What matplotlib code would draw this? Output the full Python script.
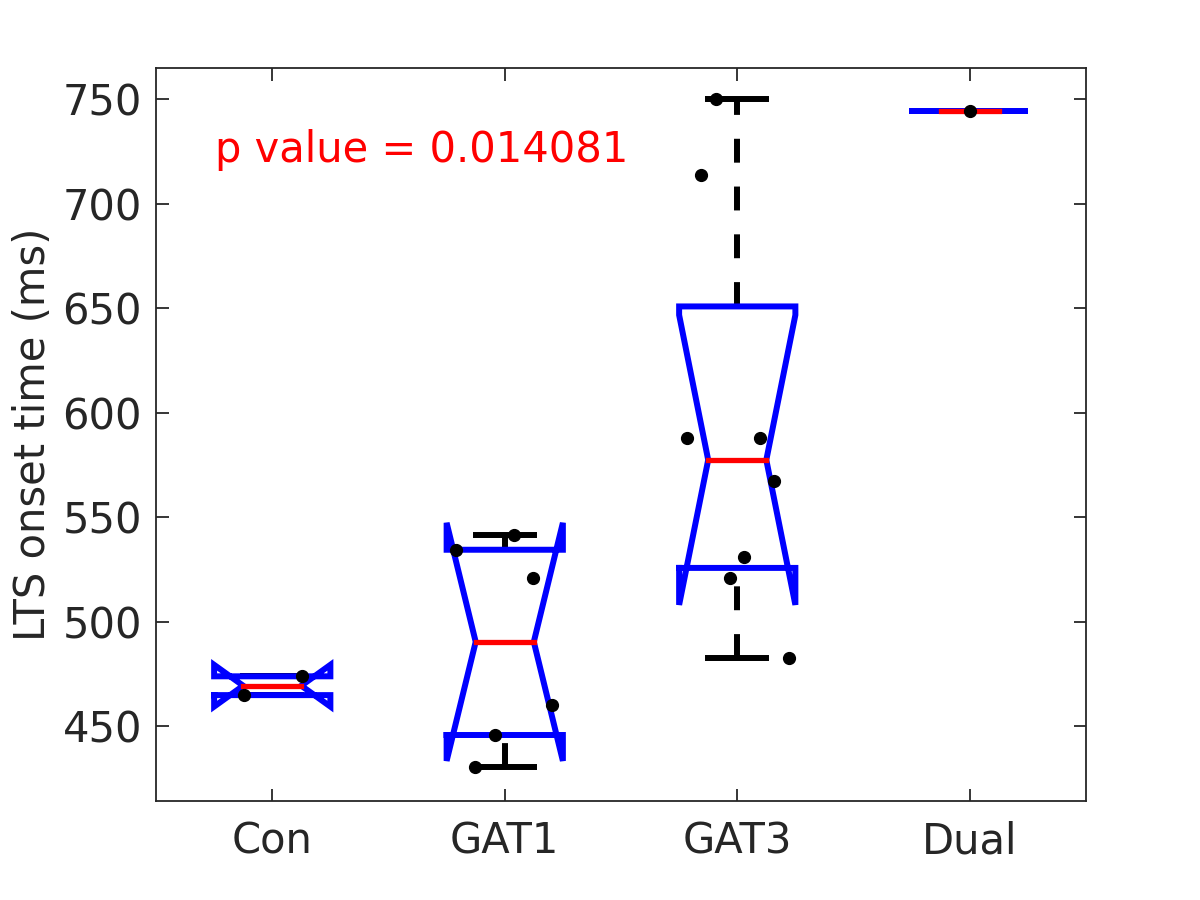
import matplotlib
matplotlib.use("Agg")
import matplotlib.pyplot as plt
import numpy as np

groups = ["Con", "GAT1", "GAT3", "Dual"]

# raw points (value, x jitter offset)
con_vals = [464.8, 473.8]
con_jit = [-0.123, 0.126]
gat1_vals = [534.4, 541.4, 520.7, 459.9, 445.7, 430.2]
gat1_jit = [-0.211, 0.040, 0.120, 0.205, -0.043, -0.129]
gat3_vals = [587.7, 587.7, 567.1, 530.7, 520.7, 482.4, 750.0, 714.0]
gat3_jit = [-0.218, 0.096, 0.156, 0.031, -0.033, 0.221, -0.093, -0.158]
dual_vals = [744.7]
dual_jit = [0.0]

# box statistics as drawn
q1 = [464.8, 445.7, 525.7, 744.7]
med = [469.3, 490.3, 577.4, 744.7]
q3 = [473.8, 534.4, 650.9, 744.7]
notch_lo = [459.3, 433.3, 508.0, 744.7]
notch_hi = [479.3, 547.3, 646.8, 744.7]
whisk_lo = [464.8, 430.2, 482.4, 744.7]
whisk_hi = [473.8, 541.4, 750.0, 744.7]

p_text = "p value = 0.014081"

fig = plt.figure(figsize=(12, 9), dpi=100)
ax = fig.add_axes([0.13, 0.11, 0.775, 0.815])

blue = (0, 0, 1)
w = 0.25
all_vals = [con_vals, gat1_vals, gat3_vals, dual_vals]
all_jit = [con_jit, gat1_jit, gat3_jit, dual_jit]

for i in range(len(groups)):
    x = i + 1
    # whiskers
    ax.plot([x, x], [q3[i], whisk_hi[i]], color="k", lw=4.3, ls=(0, (4, 4)), zorder=1)
    ax.plot([x, x], [whisk_lo[i], q1[i]], color="k", lw=4.3, ls=(0, (4, 4)), zorder=1)
    ax.plot([x - w / 2, x + w / 2], [whisk_hi[i], whisk_hi[i]], color="k", lw=4.3, zorder=1)
    ax.plot([x - w / 2, x + w / 2], [whisk_lo[i], whisk_lo[i]], color="k", lw=4.3, zorder=1)
    # notched box outline
    bx = [x - w, x - w, x - w / 2, x - w, x - w, x + w, x + w, x + w / 2, x + w, x + w, x - w]
    by = [q1[i], notch_lo[i], med[i], notch_hi[i], q3[i], q3[i], notch_hi[i], med[i],
          notch_lo[i], q1[i], q1[i]]
    ax.plot(bx, by, color=blue, lw=4.3, solid_joinstyle="miter", zorder=2)
    # median
    ax.plot([x - w / 2, x + w / 2], [med[i], med[i]], color="r", lw=3.8, zorder=3)
    # points
    ax.plot(x + np.array(all_jit[i]), all_vals[i], "o", color="k", ms=8.5, zorder=4)

ax.text(0.755, 726, p_text, color="r", fontsize=30, ha="left", va="center")

ax.set_xlim(0.5, 4.5)
ax.set_ylim(414.1, 765.3)
ax.set_xticks([1, 2, 3, 4])
ax.set_xticklabels(groups)
ax.set_yticks([450, 500, 550, 600, 650, 700, 750])
ax.set_ylabel("LTS onset time (ms)", fontsize=30, color="#262626", labelpad=6)

for s in ax.spines.values():
    s.set_color("#262626")
    s.set_linewidth(1.3)
ax.tick_params(direction="in", length=9, width=1.3, colors="#262626",
               labelsize=30, top=True, right=True)
ax.tick_params(axis="x", pad=14)
ax.tick_params(axis="y", pad=10)

fig.savefig("out.png", dpi=100)
